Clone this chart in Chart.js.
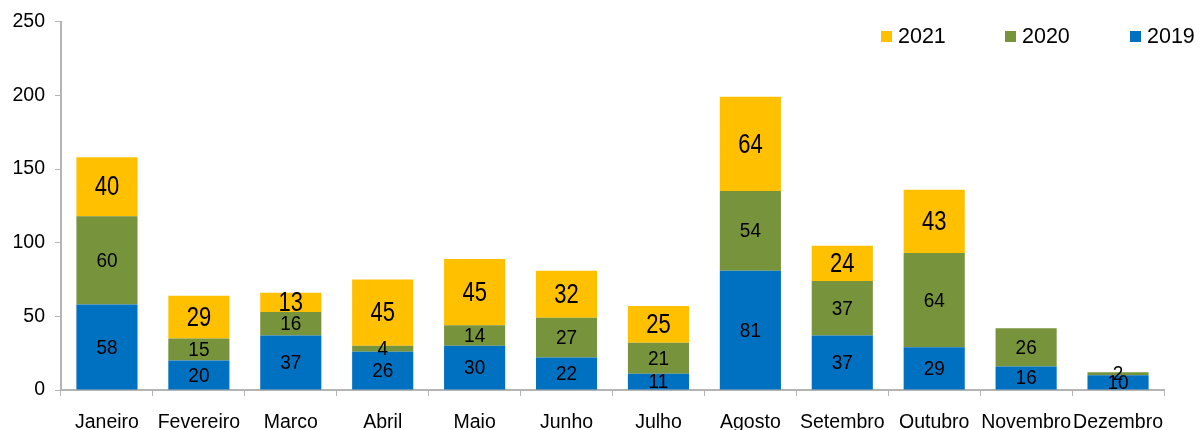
<!DOCTYPE html>
<html>
<head>
<meta charset="utf-8">
<script src="https://cdn.jsdelivr.net/npm/chart.js@4/dist/chart.umd.min.js"></script>
<style>
  html, body { margin: 0; padding: 0; background: #fff; }
  #wrap { width: 1200px; height: 430px; }
</style>
</head>
<body>
<div id="wrap"><canvas id="chart" width="1200" height="430"></canvas></div>
<script>
// Data
const months = ['Janeiro', 'Fevereiro', 'Marco', 'Abril', 'Maio', 'Junho', 'Julho', 'Agosto', 'Setembro', 'Outubro', 'Novembro', 'Dezembro'];
const values2019 = [58, 20, 37, 26, 30, 22, 11, 81, 37, 29, 16, 10];
const values2020 = [60, 15, 16, 4, 14, 27, 21, 54, 37, 64, 26, 2];
const values2021 = [40, 29, 13, 45, 45, 32, 25, 64, 24, 43, null, null];
const yTicks = [0, 50, 100, 150, 200, 250];

const FONT = '"Liberation Sans", Arial, sans-serif';
const AXIS_GREY = '#b4b4b4';

// labels inside each segment (the 2021 ones are taller in the original)
const segmentLabels = {
    id: 'segmentLabels',
    afterDatasetsDraw(chart) {
        const ctx = chart.ctx;
        ctx.save();
        ctx.textAlign = 'center';
        ctx.textBaseline = 'middle';
        ctx.fillStyle = '#000';
        chart.data.datasets.forEach((ds, i) => {
            const meta = chart.getDatasetMeta(i);
            ctx.font = (ds.labelSize || 19) + 'px ' + FONT;
            meta.data.forEach((bar, j) => {
                const v = ds.data[j];
                if (v === null || v === undefined) return;
                const y = (bar.y + bar.base) / 2;
                ctx.save();
                ctx.translate(bar.x, y + 1);
                ctx.scale(1, ds.labelStretch || 1);
                ctx.fillText(String(v), 0, 0);
                ctx.restore();
            });
        });
        ctx.restore();
    }
};

// legend drawn top right, 2021 / 2020 / 2019
const cornerLegend = {
    id: 'cornerLegend',
    afterDraw(chart) {
        const ctx = chart.ctx;
        const xs = [881, 1005, 1130];
        const order = [2, 1, 0];
        ctx.save();
        ctx.font = '21.5px ' + FONT;
        ctx.textBaseline = 'middle';
        ctx.textAlign = 'left';
        order.forEach((di, k) => {
            const ds = chart.data.datasets[di];
            ctx.fillStyle = ds.backgroundColor;
            ctx.fillRect(xs[k], 31, 11, 11);
            ctx.fillStyle = '#000';
            ctx.fillText(ds.label, xs[k] + 17, 37);
        });
        ctx.restore();
    }
};

new Chart(document.getElementById('chart'), {
    type: 'bar',
    data: {
        labels: months,
        datasets: [
            { label: '2019', data: values2019, backgroundColor: '#0070C0', labelSize: 19, labelStretch: 1.05 },
            { label: '2020', data: values2020, backgroundColor: '#77933C', labelSize: 19, labelStretch: 1.05 },
            { label: '2021', data: values2021, backgroundColor: '#FFC000', labelSize: 22, labelStretch: 1.28 }
        ]
    },
    options: {
        responsive: false,
        animation: false,
        events: [],
        layout: { padding: { top: 21, right: 36, left: 0, bottom: 0 } },
        datasets: { bar: { barPercentage: 0.665, categoryPercentage: 1 } },
        plugins: { legend: { display: false }, tooltip: { enabled: false } },
        scales: {
            x: {
                stacked: true,
                grid: { drawOnChartArea: false, drawTicks: true, tickLength: 6, color: AXIS_GREY, offset: true },
                border: { color: AXIS_GREY, width: 2 },
                ticks: { color: '#000', font: { family: FONT, size: 19.5 }, padding: 15, maxRotation: 0, autoSkip: false },
                afterFit(scale) { scale.height = 40; }
            },
            y: {
                stacked: true,
                min: 0,
                max: 250,
                afterBuildTicks(scale) { scale.ticks = yTicks.map(v => ({ value: v })); },
                grid: { drawOnChartArea: false, drawTicks: true, tickLength: 6, color: AXIS_GREY },
                border: { color: AXIS_GREY, width: 2 },
                ticks: { color: '#000', font: { family: FONT, size: 19.5 }, padding: 10 },
                afterFit(scale) { scale.width = 61; }
            }
        }
    },
    plugins: [segmentLabels, cornerLegend]
});
</script>
</body>
</html>
